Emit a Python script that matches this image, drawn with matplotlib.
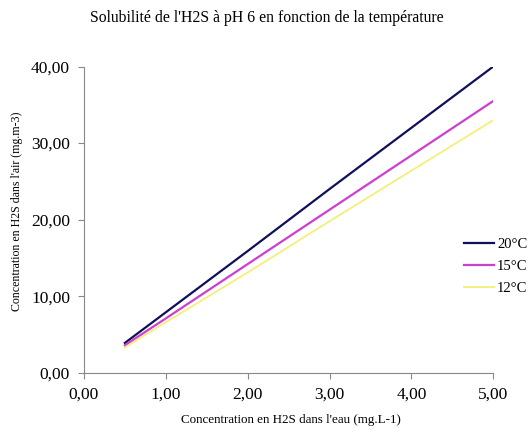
import matplotlib
matplotlib.use("Agg")
import matplotlib.pyplot as plt

plt.rcParams["font.family"] = ["Liberation Serif", "DejaVu Serif"]

# concentration dans l'eau (mg.L-1)
eau = [0.5, 1.0, 2.0, 3.0, 4.0, 5.0]
# concentration dans l'air (mg.m-3) par température
air_20 = [3.9, 7.9, 15.9, 24.0, 32.0, 40.0]
air_15 = [3.6, 7.1, 14.2, 21.3, 28.4, 35.5]
air_12 = [3.3, 6.6, 13.1, 19.8, 26.4, 33.0]

x_ticks = [0, 1, 2, 3, 4, 5]
x_labels = ["0,00", "1,00", "2,00", "3,00", "4,00", "5,00"]
y_ticks = [0, 10, 20, 30, 40]
y_labels = ["0,00", "10,00", "20,00", "30,00", "40,00"]

fig = plt.figure(figsize=(5.31, 4.32), dpi=100)
ax = fig.add_axes([0.158, 0.137, 0.771, 0.709])

ax.plot(eau, air_20, color="#10105a", lw=1.6, label="20°C")
ax.plot(eau, air_15, color="#cc3fd0", lw=1.6, label="15°C")
ax.plot(eau, air_12, color="#f4ef7a", lw=1.3, label="12°C")

ax.set_xlim(0, 5)
ax.set_ylim(0, 40)
ax.set_xticks(x_ticks)
ax.set_xticklabels(x_labels, fontsize=12.5)
ax.set_yticks(y_ticks)
ax.set_yticklabels(y_labels, fontsize=12.5)
ax.tick_params(axis="both", direction="out", length=4, width=0.8, color="#888888", pad=6)

for side in ("top", "right"):
    ax.spines[side].set_visible(False)
for side in ("left", "bottom"):
    ax.spines[side].set_color("#888888")
    ax.spines[side].set_linewidth(0.8)

ax.set_xlabel("Concentration en H2S dans l'eau (mg.L-1)", fontsize=9.4)
ax.set_ylabel("Concentration en H2S dans l'air (mg.m-3)", fontsize=8.6)
ax.xaxis.set_label_coords(0.506, -0.136)
ax.yaxis.set_label_coords(-0.148, 0.528)

fig.text(0.503, 0.958, "Solubilité de l'H2S à pH 6 en fonction de la température",
         ha="center", va="center", fontsize=11.3)

fig.legend(loc="center left", bbox_to_anchor=(0.862, 0.384), frameon=False,
           fontsize=10.5, handlelength=2.1, handletextpad=0.2, labelspacing=0.6,
           borderaxespad=0)

fig.savefig("out.png", dpi=100)
plt.close(fig)
